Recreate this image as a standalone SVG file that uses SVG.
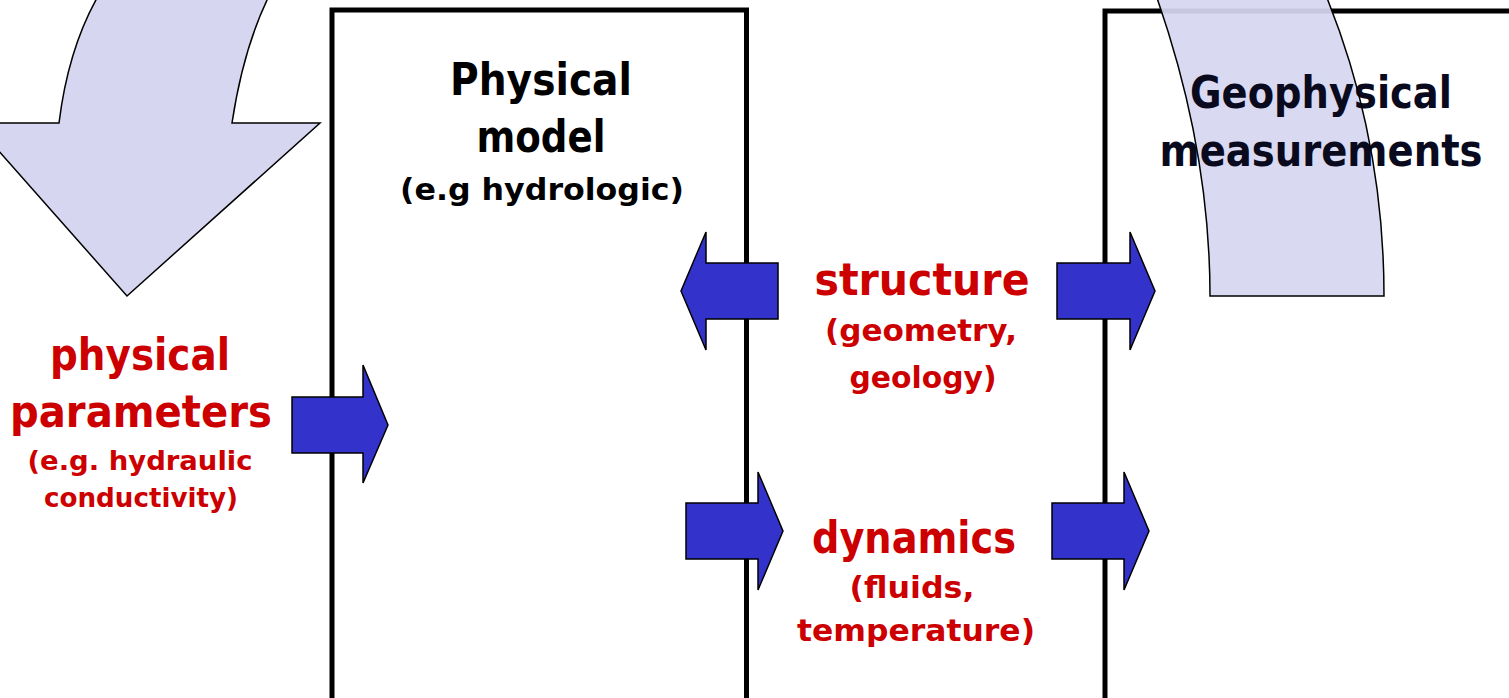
<svg xmlns="http://www.w3.org/2000/svg" width="1509" height="698" viewBox="0 0 1509 698">
<defs>
<path id="band" d="M1157,-2 Q1210,150 1210,296 L1384,296 Q1384,140 1327,-2 Z"/>
</defs>
<style>
text{font-family:"Comic Sans MS","DejaVu Sans","Liberation Sans",sans-serif;font-weight:bold;text-anchor:middle}
.big{font-size:44px}
.mid{font-size:31px}
.sm{font-size:27px}
.blk{fill:#000}
.nav{fill:#0a0a1e}
.red{fill:#cc0000}
.box{fill:none;stroke:#000;stroke-width:5}
.blue{fill:#3333cc;stroke:#000;stroke-width:1.5;stroke-linejoin:miter}
.curve{fill:#d6d6f1;stroke:#000;stroke-width:1.5}
</style>
<rect width="1509" height="698" fill="#fff"/>
<g id="big-arrow-left">
<path class="curve" d="M97,-2 Q68,50 59,123 L-26,123 L127,296 L320,123 L232,123 Q243,50 268,-2 Z"/>
</g>
<g id="physical-model">
<rect class="box" x="332" y="10" width="414.5" height="700"/>
<text class="big blk" x="541" y="95" textLength="182" lengthAdjust="spacingAndGlyphs">Physical</text>
<text class="big blk" x="541" y="152" textLength="129" lengthAdjust="spacingAndGlyphs">model</text>
<text class="mid blk" x="542" y="200" textLength="284" lengthAdjust="spacingAndGlyphs">(e.g hydrologic)</text>
</g>
<g id="geophysical">
<rect class="box" x="1105" y="11" width="420" height="700"/>
<use href="#band" fill="#d6d6f1" fill-opacity="0.93" stroke="none"/>
<text class="big nav" x="1321" y="108" textLength="262" lengthAdjust="spacingAndGlyphs">Geophysical</text>
<text class="big nav" x="1321" y="166" textLength="323" lengthAdjust="spacingAndGlyphs">measurements</text>
<use href="#band" fill="none" stroke="#000" stroke-width="1.5"/>
</g>
<g id="structure">
<text class="big red" x="922" y="295" textLength="215" lengthAdjust="spacingAndGlyphs">structure</text>
<text class="mid red" x="921" y="341" textLength="192" lengthAdjust="spacingAndGlyphs">(geometry,</text>
<text class="mid red" x="923" y="388" textLength="147" lengthAdjust="spacingAndGlyphs">geology)</text>
</g>
<g id="dynamics">
<text class="big red" x="914" y="553" textLength="204" lengthAdjust="spacingAndGlyphs">dynamics</text>
<text class="mid red" x="912" y="598" textLength="125" lengthAdjust="spacingAndGlyphs">(fluids,</text>
<text class="mid red" x="916" y="641" textLength="238" lengthAdjust="spacingAndGlyphs">temperature)</text>
</g>
<g id="physical-parameters">
<text class="big red" x="140" y="370" textLength="180" lengthAdjust="spacingAndGlyphs">physical</text>
<text class="big red" x="141" y="427" textLength="262" lengthAdjust="spacingAndGlyphs">parameters</text>
<text class="sm red" x="140" y="470" textLength="225" lengthAdjust="spacingAndGlyphs">(e.g. hydraulic</text>
<text class="sm red" x="141" y="507" textLength="194" lengthAdjust="spacingAndGlyphs">conductivity)</text>
</g>
<g id="connectors">
<path class="blue" d="M778,263 L706,263 L706,232 L681,291 L706,350 L706,319 L778,319 Z"/>
<path class="blue" d="M1057,263 L1130,263 L1130,232 L1155,291 L1130,350 L1130,319 L1057,319 Z"/>
<path class="blue" d="M686,503 L758,503 L758,472 L783,531 L758,590 L758,559 L686,559 Z"/>
<path class="blue" d="M1052,503 L1124,503 L1124,472 L1149,531 L1124,590 L1124,559 L1052,559 Z"/>
<path class="blue" d="M292,397 L363,397 L363,365 L388,425 L363,483 L363,453 L292,453 Z"/>
</g>
</svg>
